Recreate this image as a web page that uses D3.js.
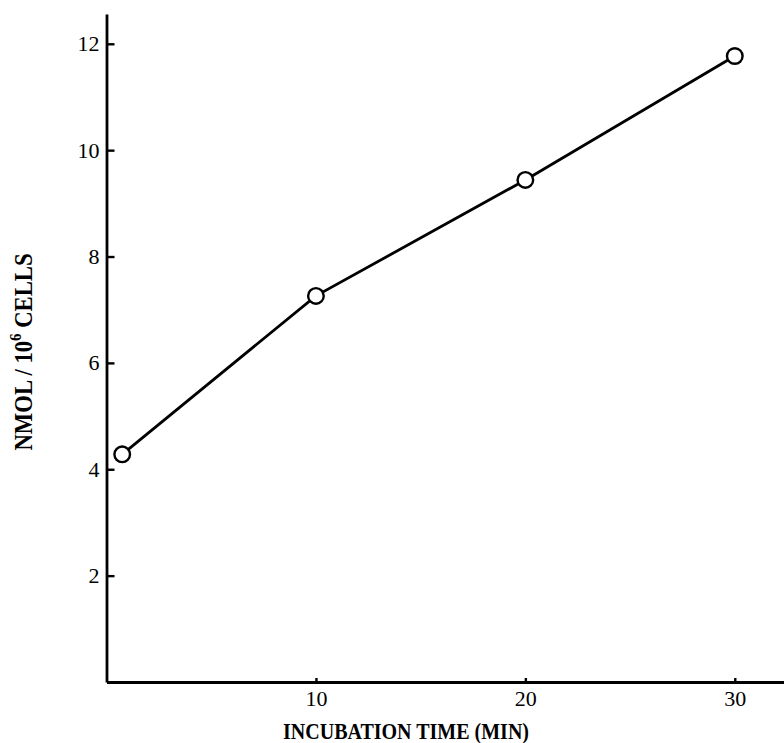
<!DOCTYPE html>
<html>
<head>
<meta charset="utf-8">
<script src="https://cdn.jsdelivr.net/npm/d3@7"></script>
<style>
  html, body { margin: 0; padding: 0; background: #fff; }
  svg { display: block; }
</style>
</head>
<body>
<svg id="chart" width="784" height="743"></svg>
<script>
// Data
const timeMin = [0.75, 10, 20, 30];
const nmolPerCells = [4.28, 7.26, 9.44, 11.77];
const xTicks = [10, 20, 30];
const yTicks = [2, 4, 6, 8, 10, 12];
const xTitle = "INCUBATION TIME (MIN)";

const svg = d3.select("#chart");
const x = d3.scaleLinear().domain([0, 32.35]).range([106.5, 784]);
const y = d3.scaleLinear().domain([0, 12.56]).range([682, 14]);

const serif = "'Liberation Serif', 'DejaVu Serif', serif";

// Axes
const yAxis = d3.axisLeft(y).tickValues(yTicks).tickSizeInner(-8).tickSizeOuter(0).tickPadding(7).tickFormat(d3.format("d"));
const xAxis = d3.axisBottom(x).tickValues(xTicks).tickSizeInner(-4).tickSizeOuter(0).tickPadding(8).tickFormat(d3.format("d"));

const gy = svg.append("g").attr("transform", `translate(${x(0)},0)`).call(yAxis);
const gx = svg.append("g").attr("transform", `translate(0,${y(0)})`).call(xAxis);

[gx, gy].forEach(g => {
  g.attr("font-size", null).attr("font-family", null);
  g.select(".domain").attr("stroke", "#000").attr("stroke-width", 2.8);
  g.selectAll(".tick line").attr("stroke", "#000").attr("stroke-width", 2.4);
  g.selectAll(".tick text").attr("fill", "#000")
    .attr("font-family", serif).attr("font-size", 22)
    .style("font-family", serif).style("font-size", "22px");
});

// Line
const line = d3.line().x((d, i) => x(timeMin[i])).y(d => y(d));
svg.append("path").datum(nmolPerCells)
  .attr("d", line)
  .attr("fill", "none").attr("stroke", "#000").attr("stroke-width", 2.8);

// Points
svg.selectAll("circle.pt").data(nmolPerCells).enter().append("circle")
  .attr("class", "pt")
  .attr("cx", (d, i) => x(timeMin[i]))
  .attr("cy", d => y(d))
  .attr("r", 7.8)
  .attr("fill", "#fff").attr("stroke", "#000").attr("stroke-width", 2.4);

// X title
svg.append("text")
  .attr("x", 406).attr("y", 739)
  .attr("text-anchor", "middle")
  .attr("textLength", 246).attr("lengthAdjust", "spacingAndGlyphs")
  .style("font-family", serif).style("font-weight", "bold").style("font-size", "24px")
  .text(xTitle);

// Y title
const yt = svg.append("text")
  .attr("transform", "translate(32,352) rotate(-90)")
  .attr("text-anchor", "middle")
  .attr("textLength", 197).attr("lengthAdjust", "spacingAndGlyphs")
  .style("font-family", serif).style("font-weight", "bold").style("font-size", "26px");
yt.append("tspan").text("NMOL / 10");
yt.append("tspan").attr("dy", -11).style("font-size", "17px").text("6");
yt.append("tspan").attr("dy", 11).text(" CELLS");
</script>
</body>
</html>
